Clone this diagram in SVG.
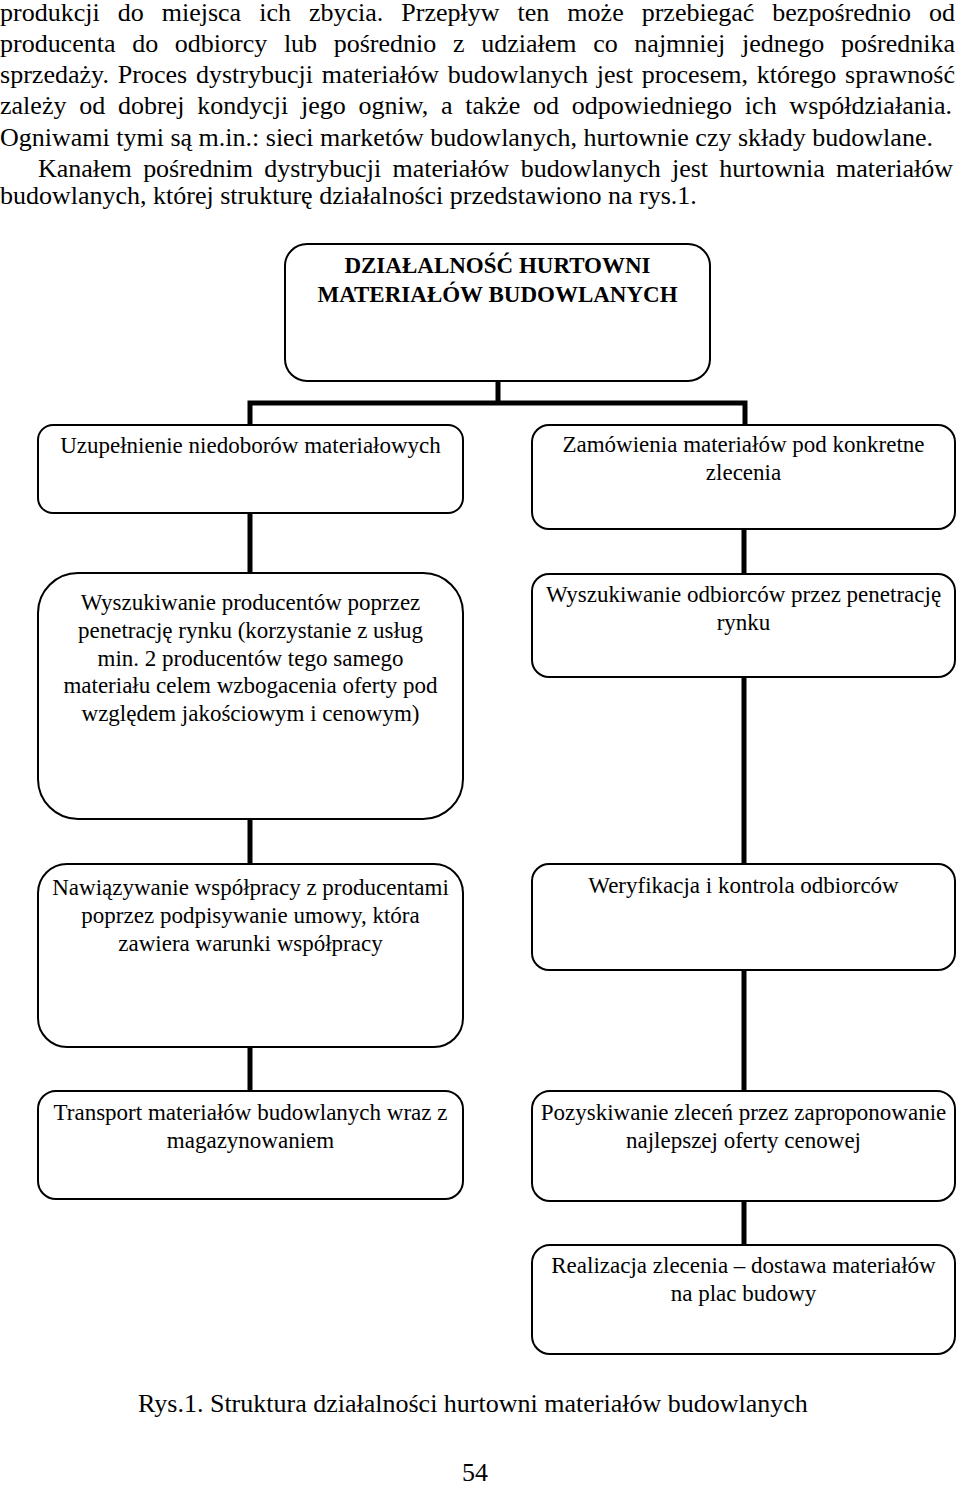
<svg xmlns="http://www.w3.org/2000/svg" width="960" height="1485" viewBox="0 0 960 1485">
<style>
.body{font-family:"Liberation Serif","Times New Roman",serif;font-size:26px;fill:#000}
.bx{fill:#fff;stroke:#000;stroke-width:2}
.t{font-family:"Liberation Serif","Times New Roman",serif;font-size:23px;fill:#000;text-anchor:middle}
.tb{font-weight:bold}
.con{fill:none;stroke:#000;stroke-width:5;stroke-linecap:square;stroke-linejoin:miter}
</style>
<rect width="960" height="1485" fill="#fff"/>
<g id="body-text">
<text class="body" x="0" y="21" word-spacing="11.5" textLength="955" lengthAdjust="spacing">produkcji do miejsca ich zbycia. Przepływ ten może przebiegać bezpośrednio od</text>
<text class="body" x="0" y="52" word-spacing="10.2" textLength="955" lengthAdjust="spacing">producenta do odbiorcy lub pośrednio z udziałem co najmniej jednego pośrednika</text>
<text class="body" x="0" y="83" word-spacing="2.2" textLength="955" lengthAdjust="spacing">sprzedaży. Proces dystrybucji materiałów budowlanych jest procesem, którego sprawność</text>
<text class="body" x="0" y="114" word-spacing="6.2" textLength="952" lengthAdjust="spacing">zależy od dobrej kondycji jego ogniw, a także od odpowiedniego ich współdziałania.</text>
<text class="body" x="0" y="146">Ogniwami tymi są m.in.: sieci marketów budowlanych, hurtownie czy składy budowlane.</text>
<text class="body" x="38" y="177" word-spacing="4.8" textLength="915" lengthAdjust="spacing">Kanałem pośrednim dystrybucji materiałów budowlanych jest hurtownia materiałów</text>
<text class="body" x="0" y="204">budowlanych, której strukturę działalności przedstawiono na rys.1.</text>
</g>
<g id="connectors">
<path class="con" d="M498,381 V403 M250,425 V403 H745 V425"/>
<path class="con" d="M250,513 V573 M250,819 V864 M250,1047 V1091"/>
<path class="con" d="M744,529 V574 M744,677 V864 M744,970 V1091 M744,1201 V1245"/>
</g>
<g id="n-top">
<rect class="bx" x="285" y="244" width="425" height="137" rx="22"/>
<text class="t tb" x="497.5" y="273">DZIAŁALNOŚĆ HURTOWNI</text>
<text class="t tb" x="497.5" y="302">MATERIAŁÓW BUDOWLANYCH</text>
</g>
<g id="n-l1">
<rect class="bx" x="38" y="425" width="425" height="88" rx="15"/>
<text class="t" x="250.5" y="453">Uzupełnienie niedoborów materiałowych</text>
</g>
<g id="n-r1">
<rect class="bx" x="532" y="425" width="423" height="104" rx="17"/>
<text class="t" x="743.5" y="452">Zamówienia materiałów pod konkretne</text>
<text class="t" x="743.5" y="480">zlecenia</text>
</g>
<g id="n-l2">
<rect class="bx" x="38" y="573" width="425" height="246" rx="40"/>
<text class="t" x="250.5" y="610">Wyszukiwanie producentów poprzez</text>
<text class="t" x="250.5" y="638">penetrację rynku (korzystanie z usług</text>
<text class="t" x="250.5" y="666">min. 2 producentów tego samego</text>
<text class="t" x="250.5" y="693">materiału celem wzbogacenia oferty pod</text>
<text class="t" x="250.5" y="721">względem jakościowym i cenowym)</text>
</g>
<g id="n-r2">
<rect class="bx" x="532" y="574" width="423" height="103" rx="17"/>
<text class="t" x="743.5" y="602">Wyszukiwanie odbiorców przez penetrację</text>
<text class="t" x="743.5" y="630">rynku</text>
</g>
<g id="n-l3">
<rect class="bx" x="38" y="864" width="425" height="183" rx="29"/>
<text class="t" x="250.5" y="895">Nawiązywanie współpracy z producentami</text>
<text class="t" x="250.5" y="923">poprzez podpisywanie umowy, która</text>
<text class="t" x="250.5" y="951">zawiera warunki współpracy</text>
</g>
<g id="n-r3">
<rect class="bx" x="532" y="864" width="423" height="106" rx="17"/>
<text class="t" x="743.5" y="893">Weryfikacja i kontrola odbiorców</text>
</g>
<g id="n-l4">
<rect class="bx" x="38" y="1091" width="425" height="108" rx="18"/>
<text class="t" x="250.5" y="1120">Transport materiałów budowlanych wraz z</text>
<text class="t" x="250.5" y="1148">magazynowaniem</text>
</g>
<g id="n-r4">
<rect class="bx" x="532" y="1091" width="423" height="110" rx="18"/>
<text class="t" x="743.5" y="1120">Pozyskiwanie zleceń przez zaproponowanie</text>
<text class="t" x="743.5" y="1148">najlepszej oferty cenowej</text>
</g>
<g id="n-r5">
<rect class="bx" x="532" y="1245" width="423" height="109" rx="18"/>
<text class="t" x="743.5" y="1273">Realizacja zlecenia – dostawa materiałów</text>
<text class="t" x="743.5" y="1301">na plac budowy</text>
</g>
<g id="caption">
<text class="body" x="138" y="1412">Rys.1. Struktura działalności hurtowni materiałów budowlanych</text>
<text class="body" x="475" y="1481" text-anchor="middle">54</text>
</g>
</svg>
